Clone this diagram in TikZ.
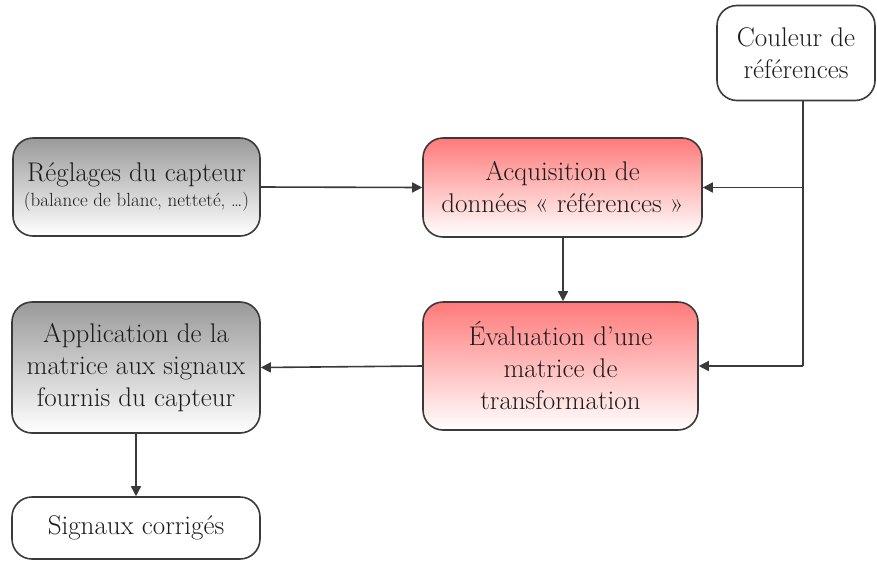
\documentclass[tikz,border=0pt]{standalone}
\usepackage{fontspec}
\usetikzlibrary{arrows.meta}
\definecolor{txt}{HTML}{1C1C1C}
\definecolor{lin}{HTML}{3A3A3A}
\definecolor{redtop}{HTML}{FF7A7A}
\definecolor{greytop}{HTML}{9A9A9A}
\tikzset{
  box/.style={draw=lin, line width=1.6pt, rounded corners=20pt, align=center, text=txt,
    font=\fontsize{27}{32}\selectfont, inner sep=2pt},
  redbox/.style={box, top color=redtop, bottom color=white},
  greybox/.style={box, top color=greytop, bottom color=white},
  whitebox/.style={box, fill=white},
  conn/.style={draw=lin, line width=1.6pt, -{Triangle[length=10pt,width=10pt]}},
  plain/.style={draw=lin, line width=1.6pt}
}
\begin{document}
\begin{tikzpicture}[x=1pt,y=-1pt]
\useasboundingbox (0,0) rectangle (877,560);
\node[greybox, minimum width=247pt, minimum height=98pt] (reg) at (136.5,187)
  {Réglages du capteur\\[-7pt]{\fontsize{19}{21}\selectfont (balance de blanc, netteté, \dots)}};
\node[redbox, minimum width=279pt, minimum height=99pt] (acq) at (562.5,187.5)
  {Acquisition de\\données « références »};
\node[whitebox, minimum width=158pt, minimum height=95pt] (coul) at (796,53)
  {Couleur de\\références};
\node[redbox, minimum width=275pt, minimum height=128pt] (eval) at (560.5,366)
  {Évaluation d’une\\matrice de\\transformation};
\node[greybox, minimum width=248pt, minimum height=131pt] (app) at (136,367.5)
  {Application de la\\matrice aux signaux\\fournis du capteur};
\node[whitebox, minimum width=248pt, minimum height=62pt] (sig) at (136,528)
  {Signaux corrigés};
\coordinate (ctop) at (803,100.5);
\draw[conn] (reg.east) -- (acq.west);
\draw[plain] (ctop) -- (ctop |- eval.east);
\draw[conn] (ctop |- acq.east) -- (acq.east);
\draw[conn] (ctop |- eval.east) -- (eval.east);
\draw[conn] (acq.south -| 563,0) -- (eval.north -| 563,0);
\draw[conn] (eval.west) -- (app.east);
\draw[conn] (app.south) -- (sig.north);
\end{tikzpicture}
\end{document}
